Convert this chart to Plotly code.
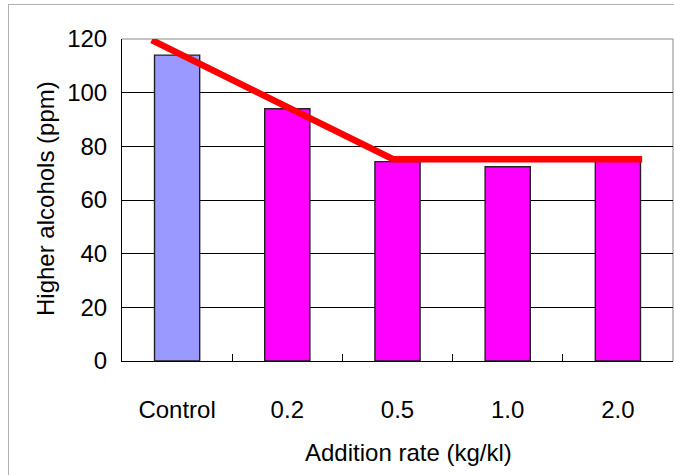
import plotly.graph_objects as go

# ---- data ----
categories = ["Control", "0.2", "0.5", "1.0", "2.0"]
alcohols_ppm = [114, 94, 74.3, 72.4, 74.6]
bar_colors = ["#9999FF", "#FF00FF", "#FF00FF", "#FF00FF", "#FF00FF"]
trend_x = [-0.23, 1.96, 4.22]
trend_y = [119.6, 75.2, 75.2]
y_ticks = [0, 20, 40, 60, 80, 100, 120]

W, H = 674, 475
L, R, T, B = 122, 1, 39, 114
pw, ph = W - L - R, H - T - B

def px(x):
    return (x - L) / pw

def py(y):
    return (H - B - y) / ph

FONT = "Liberation Sans, Arial, sans-serif"
FS = 24

fig = go.Figure()
fig.add_trace(go.Bar(
    x=list(range(len(categories))), y=alcohols_ppm,
    width=0.41,
    marker=dict(color=bar_colors, line=dict(color="#222222", width=1.4)),
    showlegend=False, hoverinfo="skip",
))
fig.add_trace(go.Scatter(
    x=trend_x, y=trend_y, mode="lines",
    line=dict(color="#FF0000", width=6.5),
    showlegend=False, hoverinfo="skip",
))

fig.update_layout(
    width=W, height=H,
    margin=dict(l=L, r=R, t=T, b=B, pad=0),
    paper_bgcolor="white", plot_bgcolor="white",
    font=dict(family=FONT, size=FS, color="black"),
    xaxis=dict(
        range=[-0.5, 4.5], tickmode="array",
        tickvals=list(range(len(categories))), ticktext=categories,
        ticks="", showgrid=False, zeroline=False,
        showline=True, linecolor="black", linewidth=1,
        ticklabelstandoff=27,
        minor=dict(tickvals=[0.5, 1.5, 2.5, 3.5], ticks="inside",
                   ticklen=7, tickcolor="black", tickwidth=1, showgrid=False),
        fixedrange=True,
    ),
    yaxis=dict(
        range=[0, 120], tickmode="array", tickvals=y_ticks,
        ticks="inside", ticklen=7, tickcolor="black", tickwidth=1,
        showgrid=True, gridcolor="black", gridwidth=1,
        zeroline=False, showline=True, linecolor="black", linewidth=1,
        ticklabelstandoff=9,
        fixedrange=True,
    ),
    shapes=[
        # top & right border of plot area (grey)
        dict(type="line", xref="paper", yref="paper", x0=0, x1=1, y0=1, y1=1,
             line=dict(color="#888888", width=1), layer="below"),
        dict(type="line", xref="paper", yref="paper", x0=1, x1=1, y0=0, y1=1,
             line=dict(color="#888888", width=1), layer="below"),
        # slide frame lines
        dict(type="line", xref="paper", yref="paper", x0=px(8.5), x1=px(8.5),
             y0=py(4), y1=py(H + 5), line=dict(color="#b0b0b0", width=1)),
        dict(type="line", xref="paper", yref="paper", x0=px(8.5), x1=px(W + 5),
             y0=py(4.5), y1=py(4.5), line=dict(color="#b0b0b0", width=1)),
    ],
    annotations=[
        dict(text="Higher alcohols (ppm)", textangle=-90, showarrow=False,
             xref="paper", yref="paper", x=px(45), y=py(199),
             xanchor="center", yanchor="middle", font=dict(size=FS)),
        dict(text="Addition rate (kg/kl)", showarrow=False,
             xref="paper", yref="paper", x=px(408.5), y=py(452),
             xanchor="center", yanchor="middle", font=dict(size=FS)),
    ],
)

fig.write_html("out.html")
